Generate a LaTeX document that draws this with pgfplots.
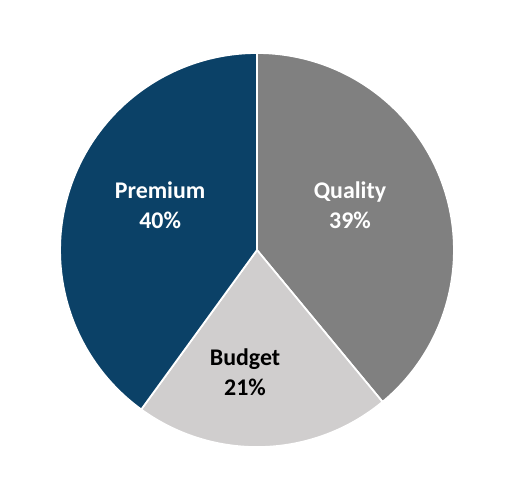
\documentclass[border=0pt]{standalone}
\usepackage{fontspec}
\setmainfont{Carlito}
\usepackage{pgfplots}
\pgfplotsset{compat=1.18}
\definecolor{navy}{RGB}{11,65,103}
\definecolor{midgray}{RGB}{128,128,128}
\definecolor{lightgray}{RGB}{208,206,206}
\begin{document}
\begin{tikzpicture}
\begin{axis}[
  scale only axis, width=10.3cm, height=9.84cm,
  xmin=-1.305, xmax=1.310, ymin=-1.228, ymax=1.269,
  hide axis, clip=false,
]
% values: Quality 39, Budget 21, Premium 40 (clockwise from top)
\addplot[fill=midgray, draw=white, line width=1pt, domain={90}:{90-3.6*39}, samples=120]
  ({cos(x)},{sin(x)}) -- (axis cs:0,0) -- cycle;
\addplot[fill=lightgray, draw=white, line width=1pt, domain={90-3.6*39}:{90-3.6*60}, samples=80]
  ({cos(x)},{sin(x)}) -- (axis cs:0,0) -- cycle;
\addplot[fill=navy, draw=white, line width=1pt, domain={90-3.6*60}:{90-3.6*100}, samples=120]
  ({cos(x)},{sin(x)}) -- (axis cs:0,0) -- cycle;
\path (axis cs:-1.305,-1.228) rectangle (axis cs:1.31,1.269);
\node[align=center, text=white, font=\fontsize{13.6}{17}\selectfont\bfseries] at (axis cs:-0.492,0.228) {Premium\\40\%};
\node[align=center, text=white, font=\fontsize{13.6}{17}\selectfont\bfseries] at (axis cs:0.472,0.228) {Quality\\39\%};
\node[align=center, text=black, font=\fontsize{13.6}{17}\selectfont\bfseries] at (axis cs:-0.061,-0.619) {Budget\\21\%};
\end{axis}
\end{tikzpicture}
\end{document}
